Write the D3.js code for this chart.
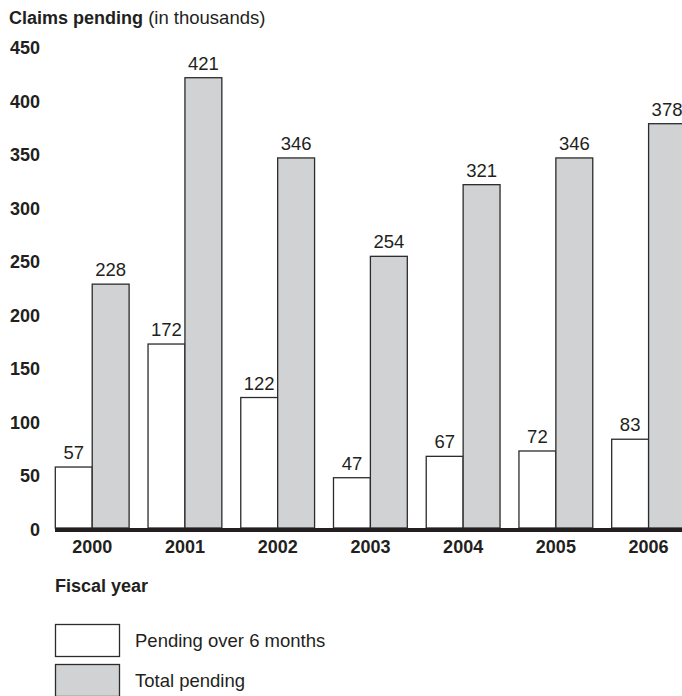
<!DOCTYPE html>
<html><head><meta charset="utf-8">
<script src="https://cdn.jsdelivr.net/npm/d3@7"></script>
<style>body{margin:0;background:#fff}svg{display:block}text{font-family:"Liberation Sans",Arial,sans-serif;fill:#231f20}</style>
</head><body>
<script>
const years = ["2000","2001","2002","2003","2004","2005","2006"];
const pendingOver6 = [57,172,122,47,67,72,83];
const totalPending = [228,421,346,254,321,346,378];
const yTicks = [0,50,100,150,200,250,300,350,400,450];
const seriesNames = ["Pending over 6 months","Total pending"];
const seriesFill = ["#ffffff","#d1d2d4"];

const W=682,H=696;
const svg=d3.select("body").append("svg").attr("width",W).attr("height",H);
const x=d3.scaleBand().domain(years).range([55.3,685.5]).paddingInner(0.204).paddingOuter(0);
const x1=d3.scaleBand().domain([0,1]).range([0,x.bandwidth()]);
const y=d3.scaleLinear().domain([0,450]).range([528,46.7]);

// title
const t=svg.append("text").attr("x",9).attr("y",23.5).attr("font-size",18.5);
t.append("tspan").attr("font-weight","bold").attr("font-size",18).text("Claims pending");
t.append("tspan").text(" (in thousands)");

// y axis labels
const yAxis=d3.axisLeft(y).tickValues(yTicks).tickSize(0).tickPadding(0);
const ga=svg.append("g").attr("transform","translate(40,1.5)").call(yAxis);
ga.select(".domain").remove();
ga.selectAll("text").attr("font-size",18).attr("font-weight","bold").attr("font-family","Liberation Sans, Arial, sans-serif").attr("fill","#231f20");

const data=years.map((yr,i)=>({yr,vals:[pendingOver6[i],totalPending[i]]}));
const g=svg.append("g").selectAll("g").data(data).join("g").attr("transform",d=>`translate(${x(d.yr)},0)`);
g.selectAll("rect").data(d=>d.vals.map((v,k)=>({v,k}))).join("rect")
 .attr("x",d=>x1(d.k)).attr("width",x1.bandwidth()).attr("y",d=>y(d.v)).attr("height",d=>y(0)-y(d.v))
 .attr("fill",d=>seriesFill[d.k]).attr("stroke","#2b2b2b").attr("stroke-width",1.3);
g.selectAll("text.v").data(d=>d.vals.map((v,k)=>({v,k}))).join("text").attr("class","v")
 .attr("x",d=>x1(d.k)+x1.bandwidth()/2).attr("y",d=>y(d.v)-8).attr("text-anchor","middle").attr("font-size",18.5).text(d=>d.v);

// baseline
svg.append("rect").attr("x",55).attr("y",528).attr("width",W-55).attr("height",4).attr("fill","#231f20");

// x axis labels
const xAxis=d3.axisBottom(x).tickSize(0).tickPadding(0);
const gx=svg.append("g").attr("transform","translate(0,540.5)").call(xAxis);
gx.select(".domain").remove();
gx.selectAll(".tick").attr("transform",d=>`translate(${x(d)+x.bandwidth()/2},0)`);
gx.selectAll("text").attr("font-size",18).attr("font-weight","bold").attr("font-family","Liberation Sans, Arial, sans-serif").attr("fill","#231f20");

svg.append("text").attr("x",55).attr("y",592).attr("font-size",18).attr("font-weight","bold").text("Fiscal year");

// legend
const lg=svg.append("g").selectAll("g").data(seriesNames).join("g").attr("transform",(d,i)=>`translate(55.5,${624.5+i*40})`);
lg.append("rect").attr("width",64).attr("height",32).attr("fill",(d,i)=>seriesFill[i]).attr("stroke","#2b2b2b").attr("stroke-width",1.3);
lg.append("text").attr("x",79.5).attr("y",16).attr("dy","0.35em").attr("font-size",18.5).text(d=>d);
</script>
</body></html>
